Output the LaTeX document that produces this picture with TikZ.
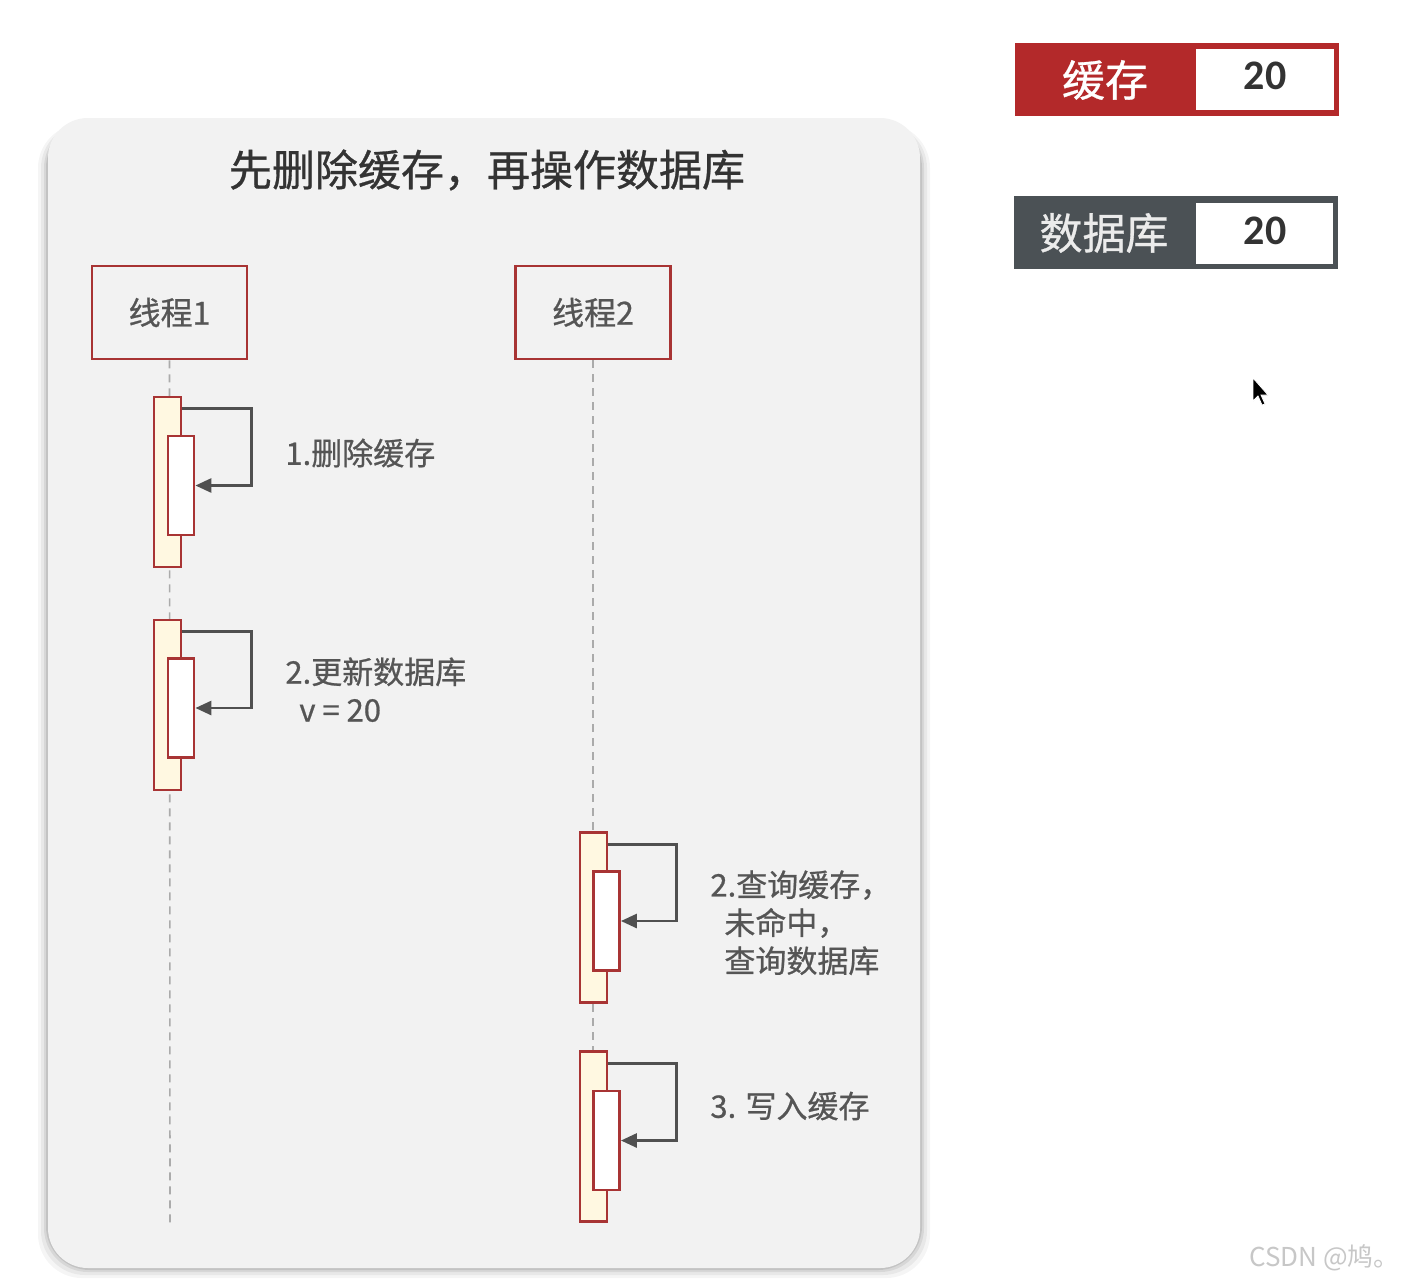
\documentclass[tikz,border=0pt]{standalone}
\usepackage{fontspec}
\setmainfont{Noto Sans CJK SC}
\newfontfamily\medfont[FakeBold=0.7]{Noto Sans CJK SC}
\newfontfamily\numfont{Carlito}
\usetikzlibrary{arrows.meta}
\definecolor{panelbg}{HTML}{F2F2F2}
\definecolor{redline}{HTML}{A83434}
\definecolor{cream}{HTML}{FFF8E1}
\definecolor{arrowgray}{HTML}{505050}
\definecolor{titlegray}{HTML}{333333}
\definecolor{labelgray}{HTML}{555555}
\definecolor{cachered}{HTML}{B3292A}
\definecolor{dbgray}{HTML}{4B5155}
\definecolor{lifegray}{HTML}{ABABAB}
\tikzset{
  threadbox/.style={draw=redline, line width=1.4pt, fill=panelbg, minimum width=77.5pt, minimum height=46.5pt, inner sep=0pt, text=labelgray, font=\medfont\fontsize{16}{18}\selectfont},
  outerbar/.style={draw=redline, line width=1.4pt, fill=cream, minimum width=13.5pt, minimum height=85pt, inner sep=0pt},
  innerbar/.style={draw=redline, line width=1.4pt, fill=white, minimum width=13pt, minimum height=49.5pt, inner sep=0pt},
  msg/.style={draw=arrowgray, line width=1.4pt, -{Triangle[length=8pt,width=7pt]}},
  lifeline/.style={draw=lifegray, line width=0.8pt, dash pattern=on 4pt off 3pt},
  steplabel/.style={anchor=west, inner sep=0pt, text=labelgray, font=\medfont\fontsize{15.5}{19}\selectfont, align=left},
  bigword/.style={inner sep=0pt, font=\medfont\fontsize{21.5}{24}\selectfont},
  valtext/.style={inner sep=0pt, text=titlegray, font=\numfont\bfseries\fontsize{21}{24}\selectfont}
}
\begin{document}
\begin{tikzpicture}[x=0.5pt, y=-0.5pt]
\useasboundingbox (0,0) rectangle (1416,1285);
\fill[white] (0,0) rectangle (1416,1285);
% panel shadow
\foreach \s/\o in {10/0.04,7/0.05,4/0.07,2/0.09}{
  \fill[black, opacity=\o, rounded corners=22pt] (48-\s,124) rectangle (920+\s,1268+\s);
}
\node[draw=none, fill=panelbg, rounded corners=20pt, minimum width=436pt, minimum height=575pt, inner sep=0pt] (panel) at (484,693) {};
\node[bigword, text=titlegray] (title) at (487,170) {先删除缓存，再操作数据库};

% threads
\node[threadbox] (t1) at (169.5,312.5) {线程1};
\node[threadbox] (t2) at (593,312.5) {线程2};
\coordinate (e1) at (170,1228);
\coordinate (e2) at (593,1225);
\draw[lifeline] (t1.south) -- (e1);
\draw[lifeline] (t2.south) -- (e2);

% thread 1, step 1
\node[outerbar] (a1) at (167.5,482) {};
\node[innerbar] (b1) at (181,485.5) {};
\draw[msg] ([yshift=-6.5pt]a1.north east) -- ++(69,0) |- (b1.east);
\node[steplabel] (l1) at (285,453) {1.删除缓存};

% thread 1, step 2
\node[outerbar] (a2) at (167.5,705) {};
\node[innerbar] (b2) at (181,708) {};
\draw[msg] ([yshift=-6.5pt]a2.north east) -- ++(69,0) |- (b2.east);
\node[steplabel, anchor=north west] (l2) at (285,657) {2.更新数据库\\\hspace*{7pt}v = 20};

% thread 2, step 2
\node[outerbar] (a3) at (593.5,917.5) {};
\node[innerbar] (b3) at (606.5,921) {};
\draw[msg] ([yshift=-6.5pt]a3.north east) -- ++(68,0) |- (b3.east);
\node[steplabel, anchor=north west] (l3) at (710,870) {2.查询缓存，\\\hspace*{7pt}未命中，\\\hspace*{7pt}查询数据库};

% thread 2, step 3
\node[outerbar] (a4) at (593.5,1136.5) {};
\node[innerbar] (b4) at (606.5,1140.5) {};
\draw[msg] ([yshift=-6.5pt]a4.north east) -- ++(68,0) |- (b4.east);
\node[steplabel] (l4) at (710,1106) {3. 写入缓存};

% cache / db state
\fill[cachered] (1015,43) rectangle (1339,116);
\fill[white] (1196,49) rectangle (1334,110);
\node[bigword, text=white] (cacheL) at (1105,80) {缓存};
\node[valtext] (cacheV) at (1265,76) {20};

\fill[dbgray] (1014,196) rectangle (1338,269);
\fill[white] (1196,203) rectangle (1333,264);
\node[bigword, text=white!92!black] (dbL) at (1104,233) {数据库};
\node[valtext] (dbV) at (1265,231) {20};

% mouse cursor
\fill[black] (1253,378) -- (1253,401) -- (1258,396) -- (1262,405) -- (1265,404) -- (1261,395) -- (1268,395) -- cycle;
\draw[white, line width=0.4pt] (1253,378) -- (1253,401) -- (1258,396) -- (1262,405) -- (1265,404) -- (1261,395) -- (1268,395) -- cycle;

% watermark
\node[anchor=east, inner sep=0pt, text=black!22, font=\fontsize{13}{15}\selectfont] (wm) at (1400,1258) {CSDN @鸠。};
\end{tikzpicture}
\end{document}
